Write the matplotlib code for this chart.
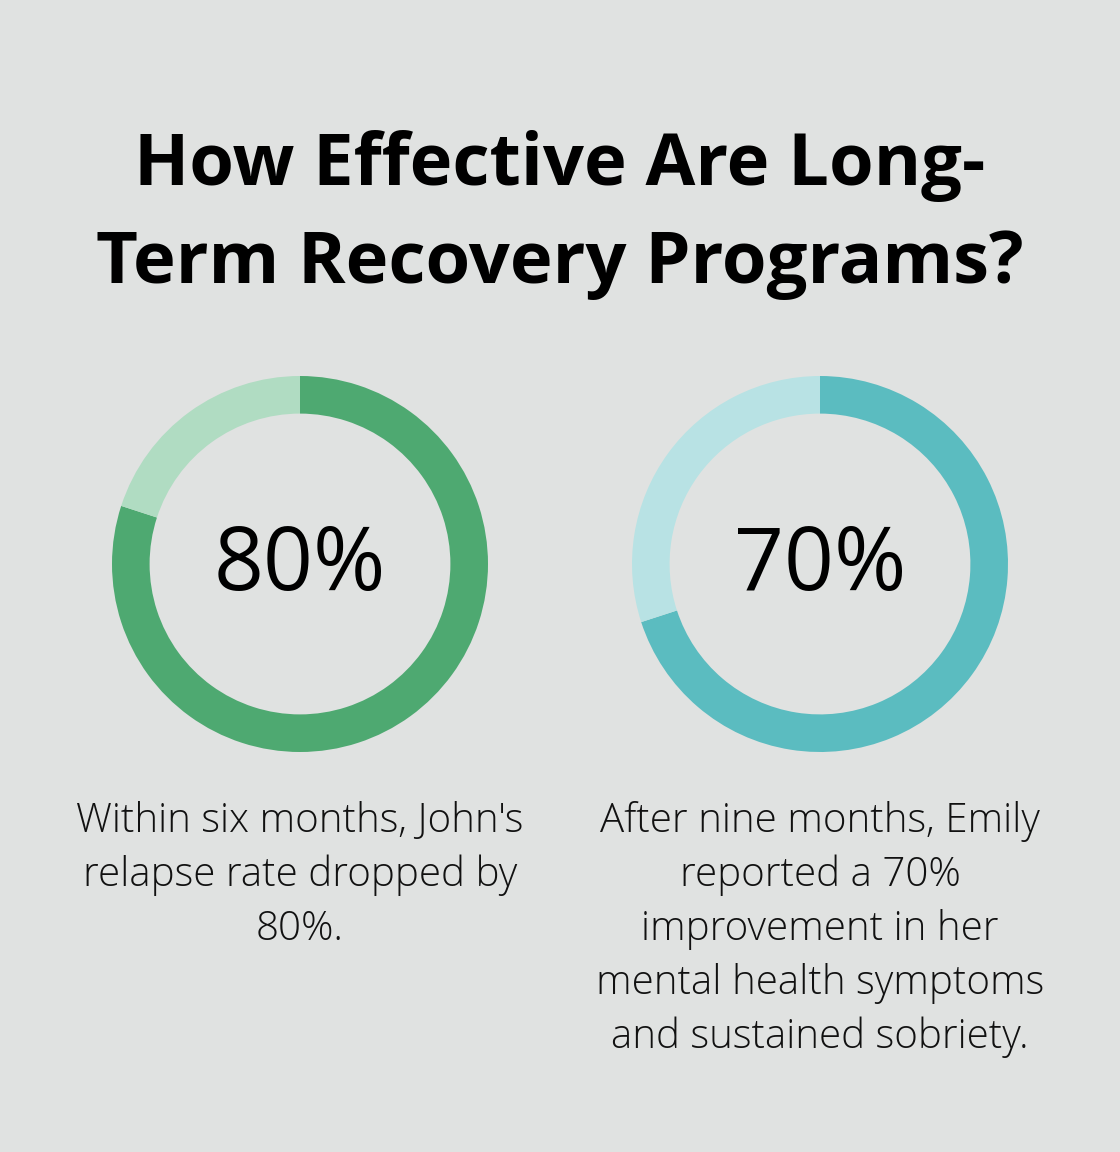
import matplotlib
matplotlib.use("Agg")
import matplotlib.pyplot as plt

title_lines = ["How Effective Are Long-", "Term Recovery Programs?"]
values = [80, 70]
labels = ["80%", "70%"]
descriptions = [
    ["Within six months, John's", "relapse rate dropped by", "80%."],
    ["After nine months, Emily", "reported a 70%", "improvement in her",
     "mental health symptoms", "and sustained sobriety."],
]
main_colors = ["#4EA971", "#5BBCC0"]
light_colors = ["#B0DCC2", "#B8E2E4"]
centers_x = [300, 820]

W, H = 1120, 1152
BG = "#E0E2E1"
fig = plt.figure(figsize=(W / 100, H / 100), dpi=100, facecolor=BG)

def fy(py):
    return 1 - py / H

# Title
for i, line in enumerate(title_lines):
    fig.text(560 / W, fy(185 + i * 98), line, ha="center", va="baseline",
             fontsize=52, fontweight="bold", family="Open Sans", color="#000000")

R = 188
cy = 564
for i, (v, lab, cx) in enumerate(zip(values, labels, centers_x)):
    ax = fig.add_axes([(cx - R) / W, (H - cy - R) / H, 2 * R / W, 2 * R / H])
    ax.set_facecolor("none")
    ax.pie([v, 100 - v], colors=[main_colors[i], light_colors[i]], startangle=90,
           counterclock=False, radius=1.0,
           wedgeprops=dict(width=0.2, edgecolor="none", linewidth=0))
    ax.set_xlim(-1, 1)
    ax.set_ylim(-1, 1)
    ax.set_aspect("auto")
    ax.axis("off")
    fig.text(cx / W, fy(590), lab, ha="center", va="baseline",
             fontsize=63, fontweight="medium", family="Open Sans", color="#000000")
    for j, line in enumerate(descriptions[i]):
        fig.text(cx / W, fy(832 + j * 54), line, ha="center", va="baseline",
                 fontsize=29, fontweight="light", family="Open Sans", color="#111111")

fig.savefig("out.png", dpi=100, facecolor=BG)
